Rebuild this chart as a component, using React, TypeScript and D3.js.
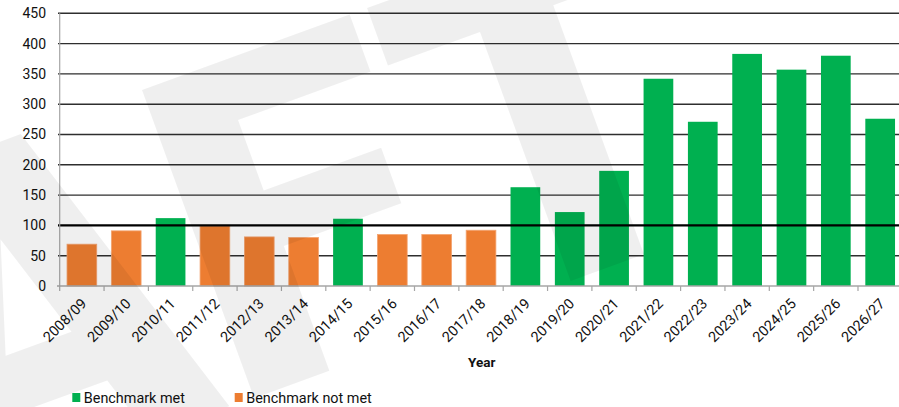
import React from "react";
import * as d3 from "d3";

const categories = [
  "2008/09", "2009/10", "2010/11", "2011/12", "2012/13", "2013/14", "2014/15",
  "2015/16", "2016/17", "2017/18", "2018/19", "2019/20", "2020/21", "2021/22",
  "2022/23", "2023/24", "2024/25", "2025/26", "2026/27",
];
const values = [69, 91, 112, 99, 81, 80, 111, 85, 85, 92, 163, 122, 190, 342, 271, 383, 357, 380, 276];
const status = [
  "not", "not", "met", "not", "not", "not", "met", "not", "not", "not",
  "met", "met", "met", "met", "met", "met", "met", "met", "met",
];
const yTicks = [0, 50, 100, 150, 200, 250, 300, 350, 400, 450];
const benchmark = 100;
const legendItems = [
  { key: "met", label: "Benchmark met" },
  { key: "not", label: "Benchmark not met" },
];

const W = 899;
const H = 407;
const GREEN = "#00B050";
const ORANGE = "#ED7D31";
const FONT = "Roboto, 'Noto Sans', Arial, sans-serif";

export default function App() {
  const x = d3
    .scaleBand<string>()
    .domain(categories)
    .range([59.7, 59.7 + 44.35 * categories.length])
    .paddingInner(0.33)
    .paddingOuter(0.165);
  const y = d3.scaleLinear().domain([0, 450]).range([286, 13.3]);
  const step = x.step();
  const x0 = 59.7;

  // watermark "DRAFT" letters (partial), drawn in a rotated frame
  const F = "M0,0 L221,0 L221,61 L80,61 L80,136 L205,136 L205,195 L80,195 L80,328 L0,328 Z";
  const T = "M239.5,0 L513.5,0 L513.5,61 L415.5,61 L415.5,326 L337.5,326 L337.5,61 L239.5,61 Z";
  const A =
    "M-241,0 L-129,0 L-26,327 L-111,327 L-132,261 L-238,261 L-259,327 L-344,327 Z " +
    "M-184,92 L-149,203 L-219,203 Z";

  return (
    <svg
      width={W}
      height={H}
      style={{ position: "absolute", left: 0, top: 0, background: "#fff" }}
      fontFamily={FONT}
    >
      <rect x={0} y={0} width={W} height={H} fill="#fff" />
      {/* gridlines */}
      {yTicks
        .filter((t) => t !== 0 && t !== benchmark)
        .map((t) => (
          <line key={t} x1={58} x2={W} y1={y(t)} y2={y(t)} stroke="#2e2e2e" strokeWidth={1.4} />
        ))}
      {/* bars */}
      {categories.map((c, i) => (
        <rect
          key={c}
          x={x(c)}
          y={y(values[i])}
          width={x.bandwidth()}
          height={y(0) - y(values[i])}
          fill={status[i] === "met" ? GREEN : ORANGE}
          stroke={status[i] === "met" ? "none" : "#F3A471"}
          strokeWidth={status[i] === "met" ? 0 : 0.8}
        />
      ))}
      {/* benchmark line */}
      <line x1={58} x2={W} y1={y(benchmark)} y2={y(benchmark)} stroke="#000" strokeWidth={2.4} />
      {/* axes */}
      <line x1={59.7} x2={59.7} y1={y(450)} y2={y(0)} stroke="#a6a6a6" strokeWidth={1.2} />
      <line x1={57} x2={W} y1={y(0)} y2={y(0)} stroke="#a6a6a6" strokeWidth={1.4} />
      {categories.map((c, i) => (
        <line
          key={"t" + c}
          x1={x0 + i * step}
          x2={x0 + i * step}
          y1={y(0)}
          y2={y(0) + 5}
          stroke="#a6a6a6"
          strokeWidth={1.2}
        />
      ))}
      {/* y labels */}
      {yTicks.map((t) => (
        <text key={"y" + t} x={46} y={y(t)} dy="0.35em" textAnchor="end" fontSize={14} fill="#111">
          {t}
        </text>
      ))}
      {/* x labels */}
      {categories.map((c) => {
        const cx = (x(c) as number) + x.bandwidth() / 2 + 2;
        const cy = 301;
        return (
          <text
            key={"x" + c}
            transform={`translate(${cx},${cy}) rotate(-45)`}
            textAnchor="end"
            dy="0.35em"
            fontSize={14.4}
            fill="#111"
          >
            {c}
          </text>
        );
      })}
      <text x={481.7} y={362} dy="0.35em" textAnchor="middle" fontSize={13.5} fontWeight="bold" fill="#111">
        Year
      </text>
      {/* legend */}
      {legendItems.map((l, i) => {
        const lx = i === 0 ? 72.3 : 234.7;
        return (
          <g key={l.key}>
            <rect x={lx} y={393} width={8} height={9} fill={l.key === "met" ? GREEN : ORANGE} />
            <text x={lx + 11.5} y={397.5} dy="0.35em" fontSize={14.4} fill="#111">
              {l.label}
            </text>
          </g>
        );
      })}
      {/* watermark */}
      <g transform="translate(142,90) rotate(-20)" fill="#000" fillOpacity={0.063}>
        <path d={F} />
        <path d={T} />
        <path d={A} fillRule="evenodd" />
      </g>
    </svg>
  );
}
